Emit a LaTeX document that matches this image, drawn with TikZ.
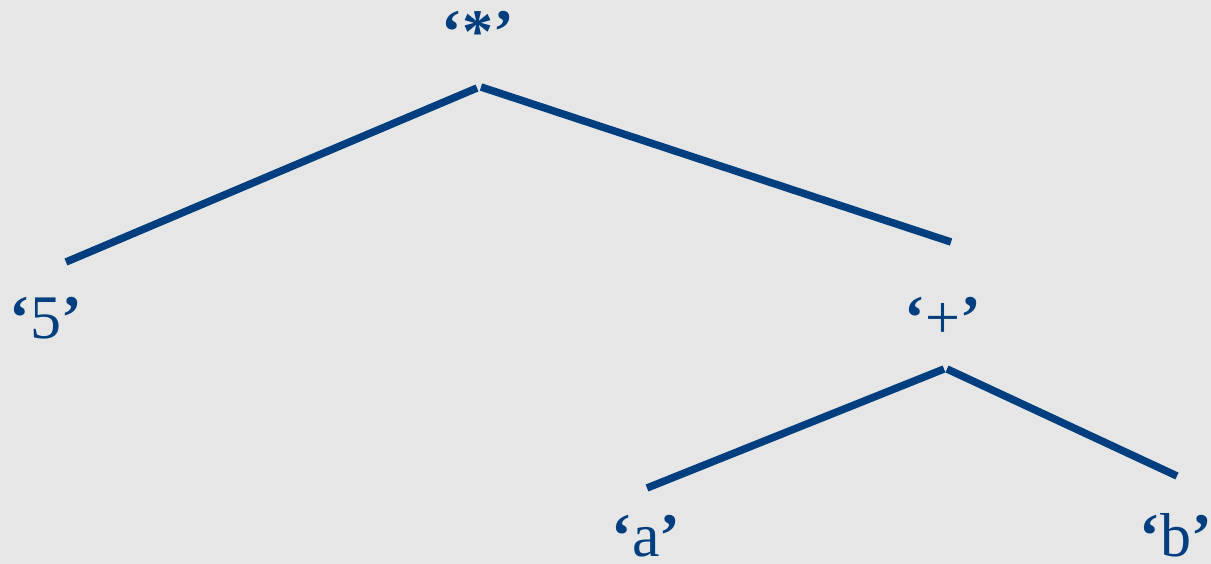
\documentclass[tikz,border=0pt]{standalone}
\usepackage{fontspec}
\setmainfont{Liberation Serif}
\usetikzlibrary{positioning}
\definecolor{treeblue}{RGB}{0,63,127}
\definecolor{slidegray}{RGB}{230,230,230}
\newcommand\qlabel[1]{\textbf{‘}#1\textbf{’}}

\begin{document}
\begin{tikzpicture}[x=1pt,y=-1pt,
  lbl/.style={treeblue,anchor=base,inner sep=0pt,font=\fontsize{62}{70}\selectfont},
  branch/.style={treeblue,line width=7.5pt}]
\fill[slidegray] (0,0) rectangle (1211,564);
\useasboundingbox (0,0) rectangle (1211,564);
% labels
\node[lbl] (mul) at (478,53) {\qlabel{\textbf{*}}};
\node[lbl] (five) at (46,338) {\qlabel{5}};
\node[lbl] (plus) at (943,338) {\qlabel{+}};
\node[lbl] (a) at (646,556) {\qlabel{a}};
\node[lbl] (b) at (1176,556) {\qlabel{b}};
% branch ends
\coordinate (mul-l) at (477,88);
\coordinate (mul-r) at (481,87);
\coordinate (five-e) at (66,262);
\coordinate (plus-e) at (951,242);
\coordinate (plus-l) at (944,369);
\coordinate (plus-r) at (947,369);
\coordinate (a-e) at (647,488);
\coordinate (b-e) at (1177,476);
\draw[branch] (mul-l) -- (five-e);
\draw[branch] (mul-r) -- (plus-e);
\draw[branch] (plus-l) -- (a-e);
\draw[branch] (plus-r) -- (b-e);
\end{tikzpicture}
\end{document}
